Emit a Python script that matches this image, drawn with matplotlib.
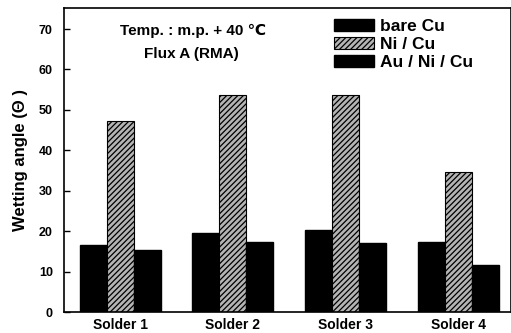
import matplotlib
matplotlib.use('Agg')
import matplotlib.pyplot as plt
import numpy as np

plt.rcParams['font.family'] = ['Liberation Sans', 'DejaVu Sans']
plt.rcParams['font.weight'] = 'bold'
plt.rcParams['hatch.linewidth'] = 0.9

# Data
solders = ['Solder 1', 'Solder 2', 'Solder 3', 'Solder 4']
series = ['bare Cu', 'Ni / Cu', 'Au / Ni / Cu']
bare_cu = [16.6, 19.6, 20.3, 17.2]
ni_cu = [47.3, 53.6, 53.7, 34.6]
au_ni_cu = [15.3, 17.3, 17.0, 11.6]

fig = plt.figure(figsize=(5.11, 3.33), dpi=100)
ax = fig.add_axes([0.125, 0.063, 0.875, 0.913])

x = np.arange(len(solders))
w = 0.24
ax.bar(x - w, bare_cu, w, color='black', edgecolor='black', label=series[0])
ax.bar(x, ni_cu, w, color='#b4b4b4', edgecolor='black', hatch='//////',
       linewidth=0.8, label=series[1])
ax.bar(x + w, au_ni_cu, w, color='black', edgecolor='black', label=series[2])

ax.set_xlim(-0.5, 3.47)
ax.set_ylim(0, 75.2)
ax.set_yticks(range(0, 71, 10))
ax.set_xticks(x)
ax.set_xticklabels(solders, fontsize=10, fontweight='bold')
ax.tick_params(axis='x', length=0, pad=4)
ax.tick_params(axis='y', direction='in', length=4, width=1, labelsize=9, pad=8)
for lab in ax.get_yticklabels():
    lab.set_fontweight('bold')
ax.set_ylabel('Wetting angle (\u0398 )', fontsize=12, fontweight='bold', labelpad=8)
for s in ax.spines.values():
    s.set_linewidth(1.2)

ax.text(0.29, 0.925, 'Temp. : m.p. + 40 \u2103', transform=ax.transAxes,
        ha='center', va='center', fontsize=11, fontweight='bold')
ax.text(0.285, 0.85, 'Flux A (RMA)', transform=ax.transAxes,
        ha='center', va='center', fontsize=11, fontweight='bold')

leg = ax.legend(loc='upper left', bbox_to_anchor=(0.58, 1.0), frameon=False,
                prop={'size': 12.5, 'weight': 'bold'}, handlelength=2.3,
                handleheight=0.7, handletextpad=0.3, labelspacing=0.15,
                borderaxespad=0.25)

fig.savefig('out.png', dpi=100)
